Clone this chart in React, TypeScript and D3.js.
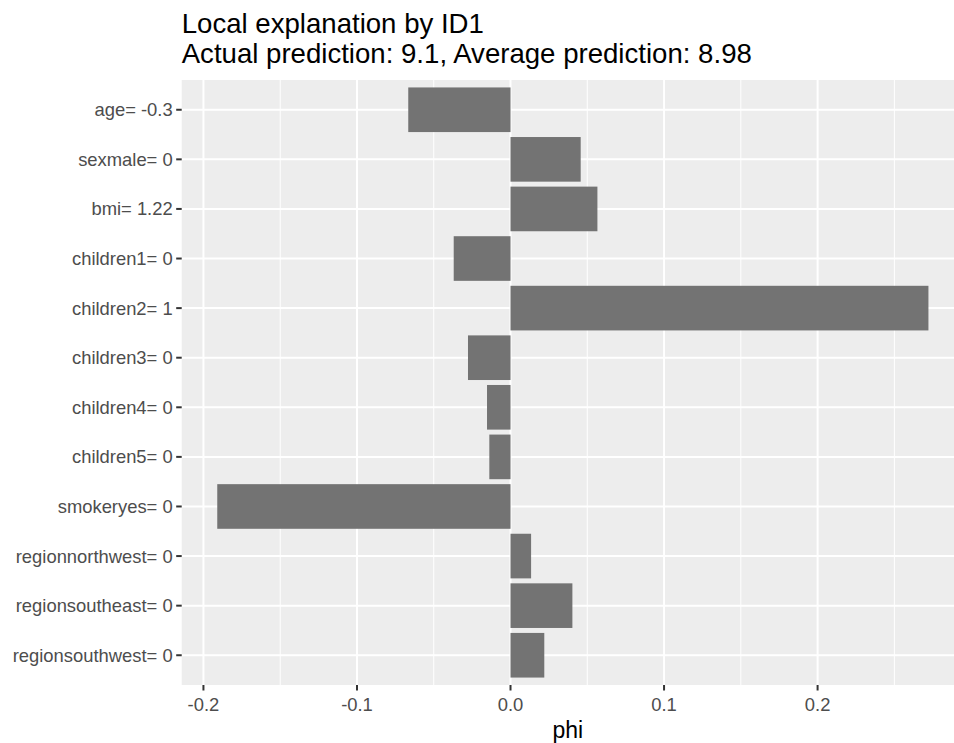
import React from "react";
import * as d3 from "d3";

// Feature contributions (phi) for observation ID1
const features = [
  "age= -0.3",
  "sexmale= 0",
  "bmi= 1.22",
  "children1= 0",
  "children2= 1",
  "children3= 0",
  "children4= 0",
  "children5= 0",
  "smokeryes= 0",
  "regionnorthwest= 0",
  "regionsoutheast= 0",
  "regionsouthwest= 0",
];
const phi = [
  -0.0666, 0.0457, 0.0566, -0.037, 0.2722, -0.0277, -0.0153, -0.0138, -0.191,
  0.0134, 0.0403, 0.022,
];
const xTicks = [-0.2, -0.1, 0.0, 0.1, 0.2];
const xMinor = [-0.15, -0.05, 0.05, 0.15, 0.25];
const titleLines = [
  "Local explanation by ID1",
  "Actual prediction: 9.1, Average prediction: 8.98",
];
const xTitle = "phi";

const W = 954;
const H = 743;
const panel = { left: 181.7, right: 964, top: 80, bottom: 685 };
const FONT = "'Liberation Sans', Arial, Helvetica, sans-serif";

export default function App() {
  const lo = d3.min(phi) as number;
  const hi = d3.max(phi) as number;
  const pad = (hi - lo) * 0.05;
  const x = d3
    .scaleLinear()
    .domain([lo - pad, hi + pad])
    .range([panel.left, panel.right]);
  const y = d3
    .scalePoint<string>()
    .domain(features)
    .range([panel.top, panel.bottom])
    .padding(0.6);
  const barH = y.step() * 0.9;
  // plain hyphen for negatives, one decimal
  const fmt = (v: number) => d3.format(".1f")(v).replace("\u2212", "-");

  return (
    <svg
      width={W}
      height={H}
      style={{ position: "absolute", left: 0, top: 0, background: "#fff" }}
      fontFamily={FONT}
    >
      <defs>
        <clipPath id="panel-clip">
          <rect
            x={panel.left}
            y={panel.top}
            width={panel.right - panel.left}
            height={panel.bottom - panel.top}
          />
        </clipPath>
      </defs>
      <rect
        x={panel.left}
        y={panel.top}
        width={panel.right - panel.left}
        height={panel.bottom - panel.top}
        fill="#EDEDED"
      />
      <g clipPath="url(#panel-clip)">
        {xMinor.map((t) => (
          <line
            key={"mn" + t}
            x1={x(t)}
            x2={x(t)}
            y1={panel.top}
            y2={panel.bottom}
            stroke="#fff"
            strokeWidth={1}
          />
        ))}
        {xTicks.map((t) => (
          <line
            key={"mj" + t}
            x1={x(t)}
            x2={x(t)}
            y1={panel.top}
            y2={panel.bottom}
            stroke="#fff"
            strokeWidth={2}
          />
        ))}
        {features.map((f) => (
          <line
            key={"hy" + f}
            x1={panel.left}
            x2={panel.right}
            y1={y(f)}
            y2={y(f)}
            stroke="#fff"
            strokeWidth={2}
          />
        ))}
        {features.map((f, i) => (
          <rect
            key={"bar" + f}
            x={Math.min(x(0), x(phi[i]))}
            width={Math.abs(x(phi[i]) - x(0))}
            y={(y(f) as number) - barH / 2}
            height={barH}
            fill="#737373"
          />
        ))}
      </g>
      {/* y axis */}
      {features.map((f) => (
        <g key={"yl" + f} transform={`translate(0,${y(f)})`}>
          <line x1={panel.left - 5.5} x2={panel.left} stroke="#333" strokeWidth={2} />
          <text
            x={panel.left - 9}
            dy="0.35em"
            textAnchor="end"
            fontSize={18.4}
            fill="#4D4D4D"
          >
            {f}
          </text>
        </g>
      ))}
      {/* x axis */}
      {xTicks.map((t) => (
        <g key={"xl" + t} transform={`translate(${x(t)},0)`}>
          <line y1={panel.bottom} y2={panel.bottom + 5.5} stroke="#333" strokeWidth={2} />
          <text
            y={panel.bottom + 26}
            textAnchor="middle"
            fontSize={18.4}
            fill="#4D4D4D"
          >
            {fmt(t)}
          </text>
        </g>
      ))}
      <text
        x={(panel.left + W) / 2}
        y={738}
        textAnchor="middle"
        fontSize={23}
        fill="#000"
      >
        {xTitle}
      </text>
      {titleLines.map((t, i) => (
        <text
          key={"t" + i}
          x={panel.left}
          y={33 + i * 30}
          fontSize={27.6}
          fill="#000"
        >
          {t}
        </text>
      ))}
    </svg>
  );
}
